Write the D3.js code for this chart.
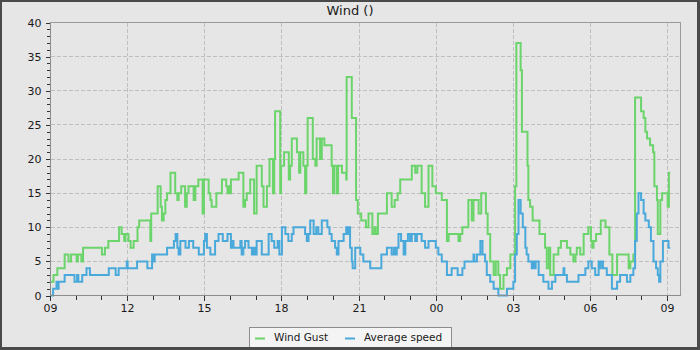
<!DOCTYPE html>
<html>
<head>
<meta charset="utf-8">
<script src="https://cdn.jsdelivr.net/npm/d3@7"></script>
<style>
  html, body { margin: 0; padding: 0; background: #ffffff; }
  svg { display: block; font-family: "DejaVu Sans", sans-serif; }
</style>
</head>
<body>
<svg id="chart" width="700" height="350"></svg>
<script>
// ---- data -------------------------------------------------------------
const chartTitle = "Wind ()";
const seriesNames = ["Wind Gust", "Average speed"];
const seriesColors = ["#6bd46b", "#4aa9db"];

const yTickValues = [0, 5, 10, 15, 20, 25, 30, 35, 40];
const xTickLabels = ["09", "12", "15", "18", "21", "00", "03", "06", "09"];

// Wind gust: times where the reading changes, and the new reading
const gustTimes = [
  "09:00","09:07","09:16","09:33","09:42","09:48","10:01","10:04","10:12","10:16",
  "11:00","11:07","11:15","11:40","11:46","11:52","11:55","12:02","12:07","12:14",
  "12:23","12:27","12:53","12:55","13:10","13:17","13:20","13:24","13:28","13:32",
  "13:40","13:51","13:56","13:59","14:05","14:14","14:18","14:22","14:34","14:38",
  "14:45","14:55","14:58","15:09","15:13","15:16","15:27","15:40","15:50","15:53",
  "15:56","15:58","16:01","16:19","16:30","16:34","16:38","16:46","16:55","17:01",
  "17:13","17:17","17:25","17:31","17:39","17:42","17:44","17:56","17:58","18:05",
  "18:16","18:19","18:23","18:35","18:40","18:43","18:50","18:54","18:57","19:00",
  "19:12","19:18","19:21","19:29","19:33","19:39","19:56","19:59","20:02","20:08",
  "20:11","20:20","20:30","20:31","20:43","20:53","20:57","21:05","21:16","21:22",
  "21:31","21:36","21:39","21:44","22:05","22:16","22:23","22:30","22:36","23:03",
  "23:11","23:16","23:26","23:34","23:42","23:51","23:59","00:13","00:25","00:29",
  "00:52","00:56","01:01","01:15","01:23","01:27","01:39","01:45","01:56","02:00",
  "02:06","02:14","02:19","02:25","02:29","02:37","02:45","02:53","03:04","03:07",
  "03:17","03:20","03:33","03:35","03:39","03:45","04:01","04:14","04:18","04:23",
  "04:26","04:34","04:45","04:51","05:05","05:13","05:20","05:25","05:28","05:36",
  "05:44","05:55","06:01","06:04","06:07","06:13","06:24","06:35","06:44","06:51",
  "07:02","07:29","07:33","07:40","07:44","07:58","08:04","08:08","08:12","08:19",
  "08:26","08:29","08:35","08:37","08:43","08:47","09:00","09:03","09:06"
];
const gustValues = [
  2,3,4,6,5,6,5,6,5,7,
  6,7,8,10,9,8,9,8,7,8,
  10,11,8,12,16,13,11,12,14,15,
  18,15,14,15,16,13,15,16,14,16,
  17,12,17,15,14,13,15,17,16,15,
  16,15,17,18,13,14,15,17,12,19,
  16,13,16,20,15,20,27,15,19,21,
  17,19,23,21,18,21,19,15,19,26,
  20,19,23,20,23,22,19,15,19,15,
  19,18,17,32,26,14,12,11,10,12,
  9,10,9,12,15,13,14,15,17,19,
  18,19,15,13,19,16,15,14,8,9,
  8,9,10,14,11,14,12,15,12,9,
  5,3,5,3,1,3,4,6,16,37,
  33,24,19,14,13,11,9,7,4,7,
  3,6,7,8,7,6,5,6,7,6,
  9,10,8,7,8,9,11,10,6,3,
  6,4,5,6,29,27,26,24,23,22,
  21,16,14,9,14,15,13,18,18
];

// Average speed: times where the reading changes, and the new reading
const avgTimes = [
  "09:00","09:06","09:14","09:17","09:19","09:33","09:56","10:02","10:05","10:14",
  "10:24","10:32","11:16","11:32","11:39","11:58","12:00","12:22","12:46","12:57",
  "13:00","13:03","13:32","13:48","13:52","13:56","13:59","14:03","14:15","14:23",
  "14:33","14:46","14:58","15:01","15:05","15:13","15:24","15:32","15:42","15:53",
  "16:01","16:04","16:07","16:23","16:26","16:30","16:34","16:42","16:50","16:54",
  "16:58","17:01","17:13","17:29","17:36","17:42","17:50","17:54","18:00","18:08",
  "18:15","18:23","18:27","18:54","18:58","19:02","19:06","19:14","19:20","19:25",
  "19:33","19:46","19:51","19:56","20:04","20:08","20:12","20:24","20:30","20:33",
  "20:37","20:39","20:43","20:45","20:51","21:03","21:10","21:26","21:52","22:05",
  "22:16","22:21","22:24","22:28","22:32","22:38","22:44","22:48","22:54","22:59",
  "23:03","23:11","23:15","23:26","23:34","23:42","23:59","00:05","00:13","00:25",
  "00:36","00:50","01:01","01:06","01:27","01:29","01:35","01:43","01:48","01:54",
  "01:58","02:06","02:14","02:25","02:45","03:00","03:04","03:08","03:12","03:17",
  "03:22","03:28","03:31","03:35","03:43","03:45","03:49","03:52","03:59","04:10",
  "04:22","04:30","04:38","04:57","04:59","05:05","05:32","05:48","05:55","06:03",
  "06:11","06:19","06:21","06:24","06:29","06:38","06:50","07:02","07:09","07:25",
  "07:33","07:40","07:44","07:48","07:52","07:58","08:04","08:08","08:16","08:21",
  "08:27","08:33","08:37","08:40","08:43","08:49","09:02","09:06"
];
const avgValues = [
  0,1,2,1,2,3,2,3,2,3,
  4,3,4,3,4,5,4,5,4,6,
  5,6,7,8,9,7,6,8,7,8,
  7,6,8,9,7,6,8,9,8,9,
  7,8,7,8,6,7,8,7,6,7,
  6,8,6,9,8,7,8,6,10,9,
  8,9,10,9,8,9,11,9,10,9,
  11,10,9,8,7,6,8,9,10,9,
  10,7,5,4,7,6,5,4,6,7,
  6,7,6,7,9,8,6,8,9,8,
  9,8,9,8,7,8,7,6,5,3,
  4,3,4,5,6,5,6,8,6,5,
  3,2,1,0,1,2,6,9,14,12,
  10,7,6,5,4,5,4,5,3,2,
  1,2,3,4,3,2,3,4,5,4,
  3,5,4,5,4,3,1,2,3,2,
  3,4,8,12,15,14,12,11,10,8,
  5,4,3,2,5,8,7,7
];

// ---- helpers ----------------------------------------------------------
const startTime = new Date(2024, 0, 1, 9, 0, 0);
const spanHours = 24.5;

function toSeries(times, values) {
  let day = 0, prev = -1;
  return times.map((s, i) => {
    const [h, m] = s.split(":").map(Number);
    const mins = h * 60 + m;
    if (mins < prev) day++;
    prev = mins;
    const offset = mins + day * 1440 - (9 * 60);
    return { t: new Date(startTime.getTime() + offset * 60000), v: values[i] };
  });
}

const gust = toSeries(gustTimes, gustValues);
const avg = toSeries(avgTimes, avgValues);

// ---- layout -----------------------------------------------------------
const svg = d3.select("#chart");
const W = 700, H = 350;
const plot = { left: 50.5, right: 680.5, top: 22.5, bottom: 295.5 };

// frame around the whole picture
svg.append("rect").attr("x", 0).attr("y", 0).attr("width", W).attr("height", H)
  .attr("fill", "#4a4a4a");
svg.append("rect").attr("x", 2).attr("y", 2).attr("width", 695).attr("height", 345)
  .attr("fill", "#e6e6e6");

const x = d3.scaleTime()
  .domain([startTime, new Date(startTime.getTime() + spanHours * 3600000)])
  .range([plot.left, plot.right]);
const y = d3.scaleLinear().domain([0, 40]).range([plot.bottom, plot.top]);

const majorX = xTickLabels.map((_, i) => new Date(startTime.getTime() + i * 3 * 3600000));
const minorX = d3.range(0, 25).map(i => new Date(startTime.getTime() + i * 3600000));
const snap = v => Math.floor(v) + 0.5;

// grid
const grid = svg.append("g").attr("stroke", "#bfbfbf").attr("stroke-width", 1)
  .attr("stroke-dasharray", "4,2").attr("shape-rendering", "crispEdges");
majorX.forEach(d => {
  const px = snap(x(d));
  if (px > plot.left + 1 && px < plot.right) {
    grid.append("line").attr("x1", px).attr("x2", px).attr("y1", plot.top).attr("y2", plot.bottom);
  }
});
yTickValues.forEach(v => {
  const py = snap(y(v));
  if (v > 0 && v < 40) {
    grid.append("line").attr("x1", plot.left).attr("x2", plot.right).attr("y1", py).attr("y2", py);
  }
});

// plot frame
svg.append("rect")
  .attr("x", plot.left).attr("y", plot.top)
  .attr("width", plot.right - plot.left).attr("height", plot.bottom - plot.top)
  .attr("fill", "none").attr("stroke", "#9a9a9a").attr("shape-rendering", "crispEdges");

// series
const line = d3.line()
  .x(d => x(d.t))
  .y(d => y(d.v))
  .curve(d3.curveStepAfter);

[gust, avg].forEach((data, i) => {
  svg.append("path")
    .datum(data)
    .attr("fill", "none")
    .attr("stroke", seriesColors[i])
    .attr("stroke-width", 2)
    .attr("stroke-linejoin", "miter")
    .attr("d", line);
});

// y axis: major and minor ticks
const yAxisMajor = d3.axisLeft(y).tickValues(yTickValues).tickSize(5).tickPadding(4)
  .tickFormat(d3.format("d"));
const yAxisMinor = d3.axisLeft(y).tickValues(d3.range(0, 41)).tickSize(4).tickFormat("");
const gyMinor = svg.append("g").attr("transform", `translate(${plot.left},0)`).call(yAxisMinor);
const gy = svg.append("g").attr("transform", `translate(${plot.left},0)`).call(yAxisMajor);

// x axis: major and minor ticks
const xAxisMajor = d3.axisBottom(x).tickValues(majorX).tickSize(5).tickPadding(4)
  .tickFormat((d, i) => xTickLabels[i]);
const xAxisMinor = d3.axisBottom(x).tickValues(minorX).tickSize(4).tickFormat("");
const gxMinor = svg.append("g").attr("transform", `translate(0,${plot.bottom})`).call(xAxisMinor);
const gx = svg.append("g").attr("transform", `translate(0,${plot.bottom})`).call(xAxisMajor);

[gy, gyMinor, gx, gxMinor].forEach(g => {
  g.select(".domain").remove();
  g.selectAll(".tick line").attr("stroke", "#333").attr("shape-rendering", "crispEdges");
  g.selectAll(".tick text")
    .attr("fill", "#1a1a1a")
    .style("font-family", "'DejaVu Sans', sans-serif")
    .style("font-size", "11px");
});
// snap x tick marks to whole pixels
[gx, gxMinor].forEach(g => {
  g.selectAll(".tick").attr("transform", d => `translate(${snap(x(d))},0)`);
});
// axis lines over the frame
svg.append("line").attr("x1", plot.left).attr("x2", plot.left)
  .attr("y1", plot.top).attr("y2", plot.bottom)
  .attr("stroke", "#8c8c8c").attr("shape-rendering", "crispEdges");
svg.append("line").attr("x1", plot.left).attr("x2", plot.right)
  .attr("y1", plot.bottom).attr("y2", plot.bottom)
  .attr("stroke", "#8c8c8c").attr("shape-rendering", "crispEdges");

// title
svg.append("text")
  .attr("x", 350).attr("y", 15)
  .attr("text-anchor", "middle")
  .attr("fill", "#1a1a1a")
  .style("font-size", "13px")
  .text(chartTitle);

// legend
const legend = svg.append("g");
legend.append("rect")
  .attr("x", 249.5).attr("y", 327.5).attr("width", 202).attr("height", 24)
  .attr("fill", "#f4f4f4").attr("stroke", "#8c8c8c");
const legendItems = [
  { swatch: 255, text: 274 },
  { swatch: 345, text: 364 }
];
seriesNames.forEach((name, i) => {
  legend.append("line")
    .attr("x1", legendItems[i].swatch).attr("x2", legendItems[i].swatch + 10)
    .attr("y1", 338.5).attr("y2", 338.5)
    .attr("stroke", seriesColors[i]).attr("stroke-width", 2);
  legend.append("text")
    .attr("x", legendItems[i].text).attr("y", 341)
    .attr("fill", "#1a1a1a")
    .style("font-size", "10.5px")
    .text(name);
});
// bottom edge of the outer frame drawn over the legend box
svg.append("rect").attr("x", 0).attr("y", 347).attr("width", W).attr("height", 3)
  .attr("fill", "#4a4a4a");
</script>
</body>
</html>
